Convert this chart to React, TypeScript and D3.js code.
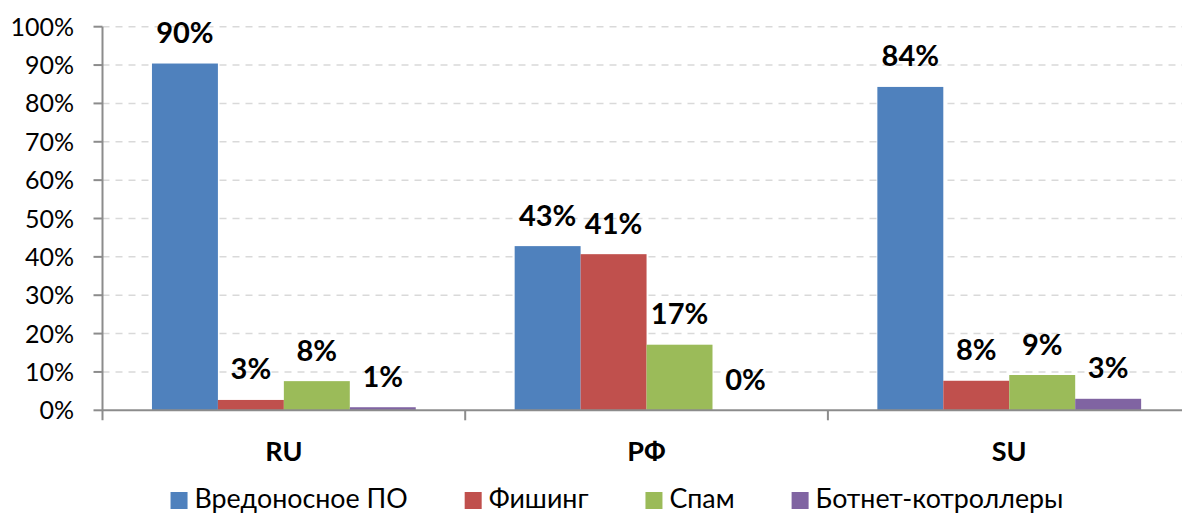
import React, { useEffect, useRef } from "react";
import * as d3 from "d3";

const categories = ["RU", "РФ", "SU"];
const seriesNames = ["Вредоносное ПО", "Фишинг", "Спам", "Ботнет-котроллеры"];
const seriesColors = ["#4F81BD", "#C0504D", "#9BBB59", "#8064A2"];
const malware = [90.4, 42.8, 84.3];
const phishing = [2.7, 40.7, 7.7];
const spam = [7.6, 17.1, 9.2];
const botnet = [0.8, 0.0, 3.0];
const yTicks = [0, 10, 20, 30, 40, 50, 60, 70, 80, 90, 100];

const W = 1182;
const H = 513;
const FONT = "Lato, 'Open Sans', sans-serif";

export default function App() {
  const ref = useRef<SVGSVGElement | null>(null);

  useEffect(() => {
    const svg = d3.select(ref.current);
    svg.selectAll("*").remove();

    const series = [malware, phishing, spam, botnet];
    const left = 102.5;
    const catW = 362.7;
    const y0 = 410.3;
    const y100 = 26.7;

    const x0 = d3
      .scaleBand<string>()
      .domain(categories)
      .range([left, left + catW * categories.length])
      .paddingInner(0)
      .paddingOuter(0);
    const bw = x0.bandwidth() / 5.5;
    const x1 = d3
      .scaleBand<string>()
      .domain(seriesNames)
      .range([bw * 0.75, x0.bandwidth() - bw * 0.75])
      .paddingInner(0)
      .paddingOuter(0);

    const y = d3.scaleLinear().domain([0, 100]).range([y0, y100]);

    // gridlines
    svg
      .append("g")
      .selectAll("line")
      .data(yTicks.filter((t) => t > 0))
      .join("line")
      .attr("x1", left)
      .attr("x2", W)
      .attr("y1", (d) => y(d))
      .attr("y2", (d) => y(d))
      .attr("stroke", "#d9d9d9")
      .attr("stroke-width", 1.5)
      .attr("stroke-dasharray", "7,6");

    // bars
    const groups = svg
      .append("g")
      .selectAll("g")
      .data(categories)
      .join("g")
      .attr("transform", (c) => `translate(${x0(c)},0)`);

    groups
      .selectAll("rect")
      .data((c, i) => seriesNames.map((s, k) => ({ s, k, v: series[k][i] })))
      .join("rect")
      .attr("x", (d) => x1(d.s)!)
      .attr("width", x1.bandwidth())
      .attr("y", (d) => y(d.v))
      .attr("height", (d) => y0 - y(d.v))
      .attr("fill", (d) => seriesColors[d.k]);

    groups
      .selectAll("text")
      .data((c, i) => seriesNames.map((s, k) => ({ s, k, v: series[k][i] })))
      .join("text")
      .attr("x", (d) => x1(d.s)! + x1.bandwidth() / 2)
      .attr("y", (d) => y(d.v) - 20.5)
      .attr("text-anchor", "middle")
      .attr("font-family", FONT)
      .attr("font-weight", "bold")
      .attr("font-size", 29)
      .attr("fill", "#000")
      .text((d) => `${Math.round(d.v)}%`);

    // axes
    const axisColor = "#8c8c8c";
    svg
      .append("line")
      .attr("x1", left)
      .attr("x2", W)
      .attr("y1", y0)
      .attr("y2", y0)
      .attr("stroke", axisColor)
      .attr("stroke-width", 2);
    svg
      .append("line")
      .attr("x1", left)
      .attr("x2", left)
      .attr("y1", y100)
      .attr("y2", y0 + 10)
      .attr("stroke", axisColor)
      .attr("stroke-width", 2);

    // y ticks
    svg
      .append("g")
      .selectAll("line")
      .data(yTicks)
      .join("line")
      .attr("x1", left - 9)
      .attr("x2", left)
      .attr("y1", (d) => y(d))
      .attr("y2", (d) => y(d))
      .attr("stroke", axisColor)
      .attr("stroke-width", 2);

    svg
      .append("g")
      .selectAll("text")
      .data(yTicks)
      .join("text")
      .attr("x", 74)
      .attr("y", (d) => y(d) + 9)
      .attr("text-anchor", "end")
      .attr("font-family", FONT)
      .attr("font-size", 25)
      .attr("fill", "#000")
      .text((d) => `${d}%`);

    // category separator ticks
    const bounds = categories.map((c) => x0(c)! + x0.bandwidth());
    svg
      .append("g")
      .selectAll("line")
      .data(bounds)
      .join("line")
      .attr("x1", (d) => d)
      .attr("x2", (d) => d)
      .attr("y1", y0)
      .attr("y2", y0 + 10)
      .attr("stroke", axisColor)
      .attr("stroke-width", 2);

    // category labels
    svg
      .append("g")
      .selectAll("text")
      .data(categories)
      .join("text")
      .attr("x", (c) => x0(c)! + x0.bandwidth() / 2)
      .attr("y", 461)
      .attr("text-anchor", "middle")
      .attr("font-family", FONT)
      .attr("font-weight", "bold")
      .attr("font-size", 27)
      .attr("fill", "#000")
      .text((c) => c);

    // legend
    const lg = svg.append("g");
    const items = lg.selectAll("g").data(seriesNames).join("g");
    items
      .append("rect")
      .attr("width", 17)
      .attr("height", 17)
      .attr("y", 492)
      .attr("fill", (d, i) => seriesColors[i]);
    items
      .append("text")
      .attr("x", 24)
      .attr("y", 507.5)
      .attr("font-family", FONT)
      .attr("font-size", 26.8)
      .attr("fill", "#000")
      .text((d) => d);
    let cx = 0;
    const offsets: number[] = [];
    items.each(function () {
      const t = d3.select(this).select("text").node() as SVGTextElement;
      offsets.push(cx);
      cx += 24 + t.getComputedTextLength() + 57;
    });
    const total = cx - 57;
    const startX = 617 - total / 2;
    items.attr("transform", (d, i) => `translate(${startX + offsets[i]},0)`);
  }, []);

  return (
    <svg
      ref={ref}
      width={W}
      height={H}
      style={{ position: "absolute", left: 0, top: 0, background: "#fff" }}
    />
  );
}
